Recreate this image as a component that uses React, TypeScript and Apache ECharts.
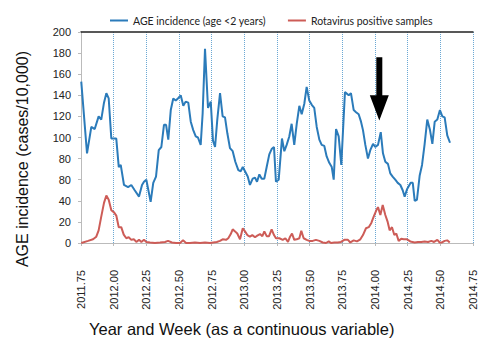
import React, { useEffect, useRef } from "react";
import * as echarts from "echarts";

const ageT = [
  2011.752, 2011.796, 2011.829, 2011.855, 2011.885, 2011.905, 2011.926, 2011.944, 2011.962, 2011.982,
  2012.020, 2012.039, 2012.054, 2012.079, 2012.110, 2012.135, 2012.161, 2012.194, 2012.217, 2012.232,
  2012.250, 2012.283, 2012.303, 2012.324, 2012.345, 2012.365, 2012.385, 2012.401, 2012.418, 2012.437,
  2012.456, 2012.475, 2012.492, 2012.513, 2012.533, 2012.551, 2012.571, 2012.590, 2012.609, 2012.628,
  2012.645, 2012.666, 2012.681, 2012.699, 2012.722, 2012.743, 2012.760, 2012.776, 2012.793, 2012.814,
  2012.834, 2012.852, 2012.870, 2012.890, 2012.911, 2012.931, 2012.954, 2012.972, 2012.988, 2013.005,
  2013.026, 2013.043, 2013.064, 2013.082, 2013.097, 2013.115, 2013.133, 2013.153, 2013.171, 2013.191,
  2013.209, 2013.227, 2013.242, 2013.263, 2013.288, 2013.306, 2013.324, 2013.344, 2013.362, 2013.382,
  2013.401, 2013.421, 2013.439, 2013.459, 2013.477, 2013.497, 2013.516, 2013.535, 2013.554, 2013.574,
  2013.592, 2013.612, 2013.630, 2013.650, 2013.669, 2013.684, 2013.702, 2013.722, 2013.742, 2013.770,
  2013.799, 2013.816, 2013.837, 2013.855, 2013.875, 2013.893, 2013.908, 2013.926, 2013.946, 2013.964,
  2013.985, 2014.002, 2014.023, 2014.044, 2014.061, 2014.079, 2014.099, 2014.117, 2014.135, 2014.155,
  2014.174, 2014.194, 2014.212, 2014.227, 2014.245, 2014.273, 2014.289, 2014.304, 2014.321, 2014.342,
  2014.360, 2014.380, 2014.400, 2014.421, 2014.439, 2014.457, 2014.477, 2014.497, 2014.515, 2014.533,
  2014.553, 2014.574,
];
const ageValues = [
  153, 85, 110, 108, 120, 117, 133, 142, 137, 99,
  99, 72, 74, 55, 53, 55, 50, 44, 55, 58,
  60, 39, 57, 63, 88, 91, 112, 112, 98, 126,
  137, 135, 137, 140, 130, 134, 133, 115, 107, 101,
  100, 93, 123, 184, 128, 134, 97, 91, 117, 142,
  120, 119, 104, 90, 87, 77, 69, 68, 72, 68,
  63, 55, 61, 62, 58, 65, 61, 61, 72, 84,
  89, 91, 58, 60, 99, 87, 93, 101, 113, 93,
  113, 130, 122, 132, 148, 135, 131, 128, 110, 98,
  93, 92, 82, 76, 72, 60, 108, 101, 74, 143,
  140, 142, 126, 124, 122, 115, 107, 93, 80, 88,
  94, 91, 93, 105, 85, 77, 75, 66, 63, 60,
  57, 55, 50, 44, 51, 57, 57, 40, 41, 64,
  74, 94, 117, 107, 94, 115, 117, 126, 120, 119,
  102, 95,
];

const rotaT = [
  2011.752, 2011.804, 2011.842, 2011.867, 2011.885, 2011.905, 2011.926, 2011.944, 2011.962, 2011.982,
  2012.003, 2012.020, 2012.039, 2012.058, 2012.077, 2012.097, 2012.115, 2012.135, 2012.156, 2012.173,
  2012.194, 2012.212, 2012.232, 2012.250, 2012.278, 2012.316, 2012.355, 2012.393, 2012.416, 2012.446,
  2012.477, 2012.508, 2012.531, 2012.554, 2012.584, 2012.622, 2012.661, 2012.699, 2012.737, 2012.789,
  2012.814, 2012.834, 2012.860, 2012.877, 2012.896, 2012.911, 2012.929, 2012.946, 2012.967, 2012.988,
  2013.005, 2013.023, 2013.043, 2013.061, 2013.082, 2013.099, 2013.120, 2013.138, 2013.153, 2013.171,
  2013.189, 2013.209, 2013.227, 2013.242, 2013.268, 2013.294, 2013.314, 2013.334, 2013.350, 2013.365,
  2013.382, 2013.401, 2013.421, 2013.436, 2013.454, 2013.477, 2013.497, 2013.523, 2013.548, 2013.574,
  2013.600, 2013.625, 2013.646, 2013.663, 2013.689, 2013.715, 2013.740, 2013.765, 2013.793, 2013.811,
  2013.837, 2013.862, 2013.888, 2013.908, 2013.931, 2013.952, 2013.972, 2013.990, 2014.010, 2014.023,
  2014.041, 2014.059, 2014.079, 2014.097, 2014.112, 2014.130, 2014.148, 2014.163, 2014.181, 2014.201,
  2014.220, 2014.245, 2014.270, 2014.304, 2014.329, 2014.354, 2014.380, 2014.406, 2014.431, 2014.452,
  2014.477, 2014.495, 2014.513, 2014.533, 2014.553, 2014.572,
];
const rotaValues = [
  0, 2, 3.5, 6, 12, 25, 38, 45, 41, 31,
  29, 26, 15, 15, 8, 4.5, 5.5, 3, 3.5, 1,
  3, 1, 3, 1, 0.5, 0, 0.5, 1, 2, 0.5,
  0, 0, 2.5, 0, 0, 0.5, 0, 0.5, 0, 1,
  2, 3.5, 3, 4.5, 8.5, 13, 11, 9, 3.5, 14,
  11, 7.5, 6, 7.5, 5.5, 7, 8.5, 6.5, 11, 6.5,
  6.5, 13, 7.5, 4.5, 4.5, 3, 4.5, 1, 6, 9,
  3, 3.5, 4.5, 11.5, 4.5, 3, 2, 2, 3, 2,
  0.5, 0, 1.5, 0, 0.5, 0.5, 1, 3, 3, 0.5,
  2.5, 1.5, 3.5, 7.5, 14, 15, 19, 25, 31, 34,
  26.5, 36, 26.5, 20, 12, 15, 7.5, 9, 2, 4,
  3.5, 3.5, 1.5, 0.5, 1, 1, 1.5, 1, 2, 1,
  3, 0.5, 0.5, 2, 2.5, 0.5,
];

const yTickLabels = ["0", "20", "40", "80", "80", "100", "120", "140", "160", "180", "200"];
const seriesNames = ["AGE incidence (age <2 years)", "Rotavirus positive samples"];
const xTitle = "Year and Week (as a continuous variable)";
const yTitle = "AGE incidence (cases/10,000)";
// arrow annotation in data coordinates: [t, value]
const arrowTip = [2014.033, 116];
const arrowTop = 176;
const arrowHeadBase = 140;

const FONT = "Liberation Sans";
const LEGEND_FONT = "Lato";
const BLUE = "#2b7bba";
const RED = "#cd5c57";

export default function App() {
  const ref = useRef<HTMLDivElement>(null);
  useEffect(() => {
    if (!ref.current) return;
    const chart = echarts.init(ref.current, undefined, { renderer: "svg" });
    chart.setOption({
      animation: false,
      textStyle: { fontFamily: FONT },
      legend: {
        top: 10,
        left: 105,
        itemGap: 22,
        itemWidth: 18,
        itemHeight: 2,
        icon: "rect",
        textStyle: { fontFamily: LEGEND_FONT, fontSize: 10.5, color: "#222" },
        data: seriesNames,
      },
      grid: { left: 81, right: 19, top: 32, bottom: 102 },
      xAxis: [
        {
          type: "value",
          min: 2011.75,
          max: 2014.75,
          interval: 0.25,
          axisLine: { show: true, lineStyle: { color: "#bbbbbb", width: 1 } },
          axisTick: { show: true, length: 3, lineStyle: { color: "#bbbbbb" } },
          axisLabel: {
            rotate: 90,
            margin: 27,
            fontSize: 11,
            color: "#222",
            fontFamily: FONT,
            formatter: (v: number) => v.toFixed(2),
          },
          splitLine: { show: true, lineStyle: { color: "#6ba8d4", type: "dotted", width: 1 } },
        },
        {
          type: "value",
          position: "top",
          min: 2011.75,
          max: 2014.75,
          interval: 0.25,
          axisLine: { show: true, onZero: false, lineStyle: { color: "#222", width: 1.5 } },
          axisTick: { show: false },
          axisLabel: { show: false },
          splitLine: { show: false },
        },
      ],
      yAxis: {
        type: "value",
        min: 0,
        max: 200,
        interval: 20,
        axisLine: { show: true, lineStyle: { color: "#bbbbbb", width: 1 } },
        axisTick: { show: true, length: 3, lineStyle: { color: "#bbbbbb" } },
        axisLabel: {
          fontSize: 11,
          color: "#222",
          margin: 10,
          fontFamily: FONT,
          formatter: (v: number) => yTickLabels[Math.round(v / 20)],
        },
        splitLine: { show: false },
      },
      series: [
        {
          name: seriesNames[0],
          type: "line",
          symbol: "none",
          color: BLUE,
          lineStyle: { width: 2, color: BLUE },
          data: ageT.map((t, i) => [t, ageValues[i]]),
          z: 3,
        },
        {
          name: seriesNames[1],
          type: "line",
          symbol: "none",
          color: RED,
          lineStyle: { width: 2, color: RED },
          data: rotaT.map((t, i) => [t, rotaValues[i]]),
          z: 4,
        },
      ],
    });
    const tip = chart.convertToPixel({ gridIndex: 0 }, arrowTip) as number[];
    const top = chart.convertToPixel({ gridIndex: 0 }, [arrowTip[0], arrowTop]) as number[];
    const base = chart.convertToPixel({ gridIndex: 0 }, [arrowTip[0], arrowHeadBase]) as number[];
    const cx = tip[0];
    chart.setOption({
      graphic: [
        {
          type: "polygon",
          shape: {
            points: [
              [cx - 3, top[1]],
              [cx + 3, top[1]],
              [cx + 3, base[1]],
              [cx + 9.5, base[1]],
              [cx, tip[1]],
              [cx - 9.5, base[1]],
              [cx - 3, base[1]],
            ],
          },
          style: { fill: "#000" },
          z: 10,
        },
        {
          type: "text",
          left: 89,
          top: 320,
          style: { text: xTitle, fontSize: 16.5, fontFamily: FONT, fill: "#111" },
        },
        {
          type: "text",
          x: 22,
          y: 159,
          rotation: Math.PI / 2,
          style: {
            text: yTitle,
            fontSize: 16,
            fontFamily: FONT,
            fill: "#111",
            align: "center",
            verticalAlign: "middle",
          },
        },
      ],
    });
    return () => chart.dispose();
  }, []);
  return (
    <div
      ref={ref}
      style={{ position: "fixed", left: 0, top: 0, width: 492, height: 345, background: "#fff" }}
    />
  );
}
